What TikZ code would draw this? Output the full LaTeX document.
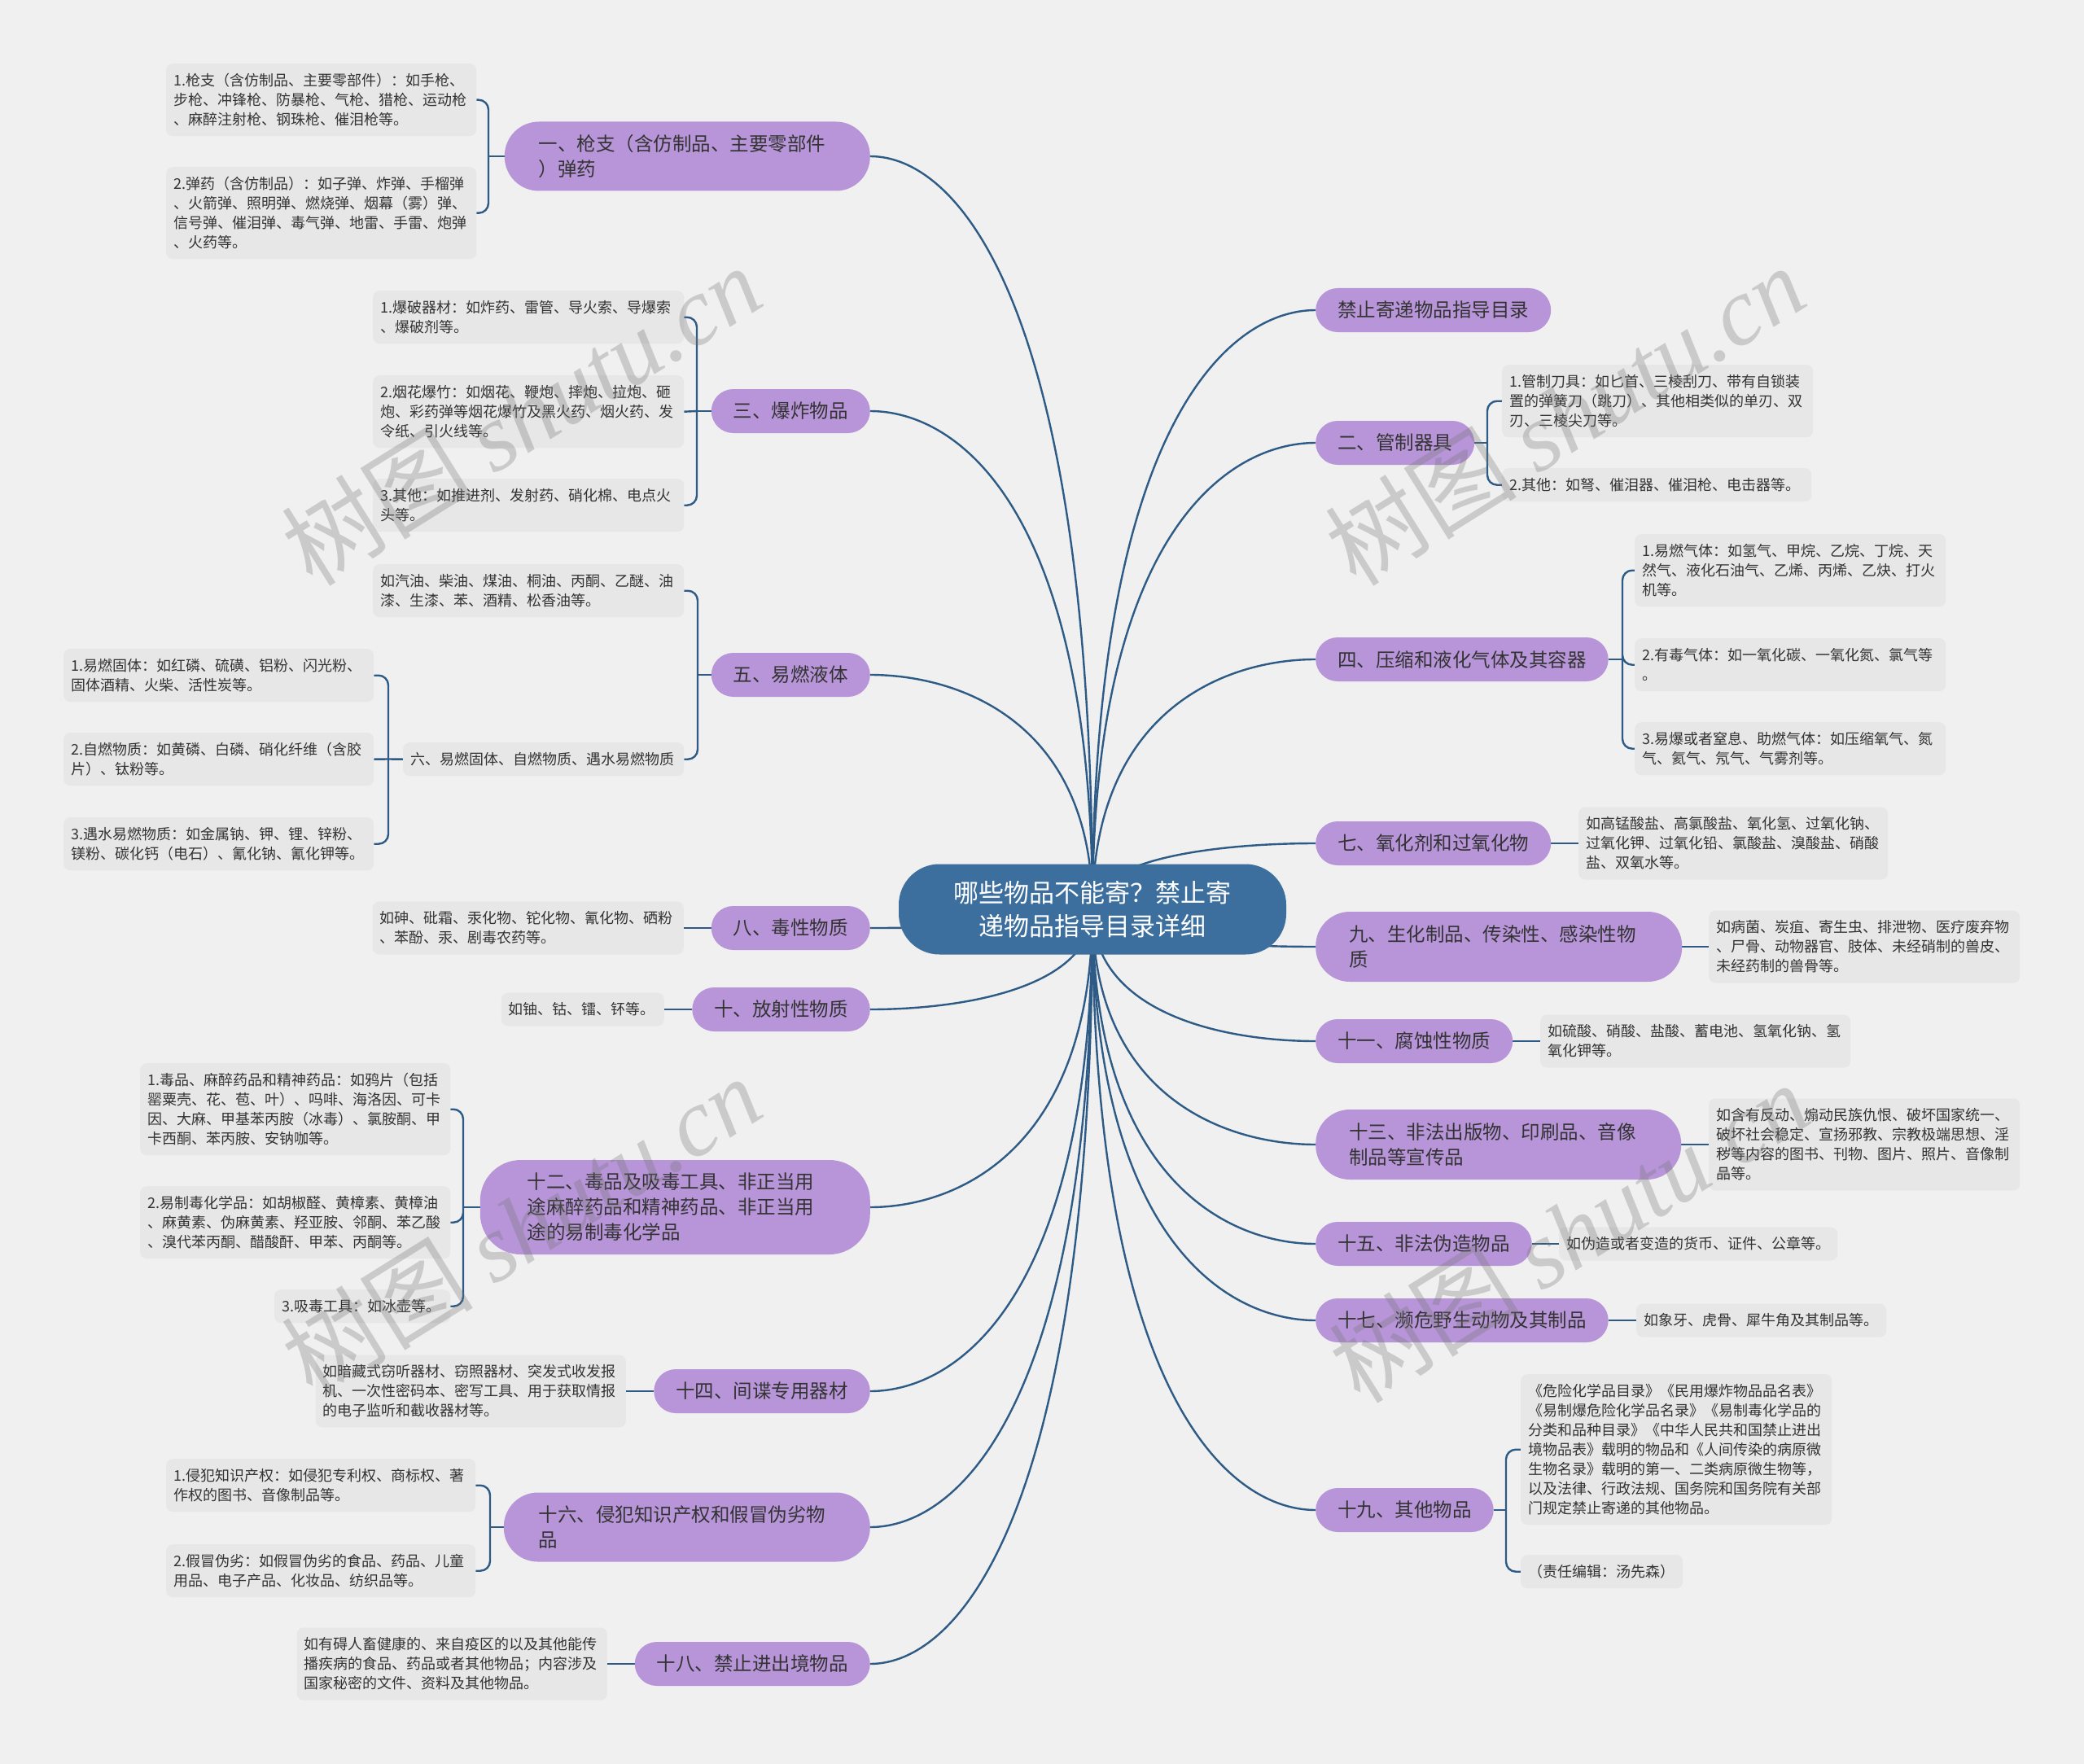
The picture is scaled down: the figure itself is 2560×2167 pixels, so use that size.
\documentclass[tikz,border=0pt]{standalone}
\usepackage{fontspec}
\setmainfont{Noto Sans CJK SC}
\newfontfamily\wmserif{Liberation Serif}
\usetikzlibrary{calc}
\definecolor{bgc}{RGB}{240,240,240}
\definecolor{leafc}{RGB}{231,231,231}
\definecolor{purp}{RGB}{183,149,216}
\definecolor{cen}{RGB}{60,110,158}
\definecolor{linec}{RGB}{45,91,134}
\definecolor{txt}{RGB}{51,51,51}
\pgfdeclarelayer{bg}
\pgfsetlayers{bg,main}
\newcommand\leaffont{\fontsize{18pt}{24pt}\selectfont\lineskiplimit=-100pt\relax}
\newcommand\brfont{\fontsize{23.5pt}{31pt}\selectfont\lineskiplimit=-100pt\relax}
\newcommand\cenfont{\fontsize{31pt}{41pt}\selectfont\lineskiplimit=-100pt\relax}
\newcommand\wmfont{\fontsize{118pt}{118pt}\selectfont}
\tikzset{
  leaf/.style={fill=leafc, rounded corners=8pt, inner xsep=9pt, inner ysep=0pt, text=txt, font=\leaffont, align=left, anchor=north west},
  lha/.style={minimum height=41pt},
  lhb/.style={minimum height=65pt},
  lhc/.style={minimum height=89pt},
  lhd/.style={minimum height=113pt},
  lhg/.style={minimum height=185pt},
  br/.style={fill=purp, rounded corners=27pt, inner xsep=27pt, inner ysep=0pt, minimum height=54pt, text=txt, font=\brfont, align=left},
  brtwo/.style={minimum height=85pt, rounded corners=42pt, text width=#1},
  cnode/.style={fill=cen, rounded corners=50pt, text=white, font=\cenfont, align=center, minimum width=476pt, minimum height=111pt, inner sep=0pt},
  conn/.style={draw=linec, line width=2.4pt},
  sub/.style={conn, rounded corners=12pt},
  curve/.style={conn, to path={let \p1=(\tikztostart), \p2=(\tikztotarget) in .. controls (\x1,{\y1+0.8*(\y2-\y1)}) and ({\x1+0.6*(\x2-\x1)},\y2) .. (\tikztotarget)}},
  wm/.style={text=black!55, text opacity=0.3, font=\wmfont, rotate=32, inner sep=0pt}
}
\begin{document}
\begin{tikzpicture}[x=1pt,y=-1pt]
\useasboundingbox (0,0) rectangle (2560,2167);

% centre
\node[cnode] (c) at (1342,1117) {哪些物品不能寄？禁止寄\\递物品指导目录详细};

% left branches
\node[br, brtwo=365pt, inner xsep=42pt, anchor=east] (b1) at (1069,192) {一、枪支（含仿制品、主要零部件\\）弹药};
\node[br, anchor=east] (b3) at (1069,505) {三、爆炸物品};
\node[br, anchor=east] (b5) at (1069,829) {五、易燃液体};
\node[br, anchor=east] (b8) at (1069,1140) {八、毒性物质};
\node[br, anchor=east] (b10) at (1069,1240) {十、放射性物质};
\node[br, text width=363pt, inner xsep=58pt, minimum height=116pt, rounded corners=50pt, anchor=east] (b12) at (1069,1483) {十二、毒品及吸毒工具、非正当用\\途麻醉药品和精神药品、非正当用\\途的易制毒化学品};
\node[br, anchor=east] (b14) at (1069,1709) {十四、间谍专用器材};
\node[br, brtwo=364pt, inner xsep=43pt, anchor=east] (b16) at (1069,1876) {十六、侵犯知识产权和假冒伪劣物\\品};
\node[br, anchor=east] (b18) at (1069,2044) {十八、禁止进出境物品};

% right branches
\node[br, anchor=west] (r0) at (1616,381) {禁止寄递物品指导目录};
\node[br, anchor=west] (r2) at (1616,544) {二、管制器具};
\node[br, anchor=west] (r4) at (1616,810) {四、压缩和液化气体及其容器};
\node[br, anchor=west] (r7) at (1616,1036) {七、氧化剂和过氧化物};
\node[br, brtwo=368pt, inner xsep=41pt, minimum height=86pt, anchor=west] (r9) at (1616,1163) {九、生化制品、传染性、感染性物\\质};
\node[br, anchor=west] (r11) at (1616,1279) {十一、腐蚀性物质};
\node[br, brtwo=367pt, inner xsep=41pt, minimum height=86pt, anchor=west] (r13) at (1616,1406) {十三、非法出版物、印刷品、音像\\制品等宣传品};
\node[br, anchor=west] (r15) at (1616,1528) {十五、非法伪造物品};
\node[br, anchor=west] (r17) at (1616,1622) {十七、濒危野生动物及其制品};
\node[br, anchor=west] (r19) at (1616,1855) {十九、其他物品};

% left leaves
\node[leaf, lhc, text width=363pt] (l1a) at (204,78) {1.枪支（含仿制品、主要零部件）：如手枪、\\步枪、冲锋枪、防暴枪、气枪、猎枪、运动枪\\、麻醉注射枪、钢珠枪、催泪枪等。};
\node[leaf, lhd, text width=363pt] (l1b) at (204,205) {2.弹药（含仿制品）：如子弹、炸弹、手榴弹\\、火箭弹、照明弹、燃烧弹、烟幕（雾）弹、\\信号弹、催泪弹、毒气弹、地雷、手雷、炮弹\\、火药等。};
\node[leaf, lhb, text width=364pt] (l3a) at (458,357) {1.爆破器材：如炸药、雷管、导火索、导爆索\\、爆破剂等。};
\node[leaf, lhc, text width=364pt] (l3b) at (458,461) {2.烟花爆竹：如烟花、鞭炮、摔炮、拉炮、砸\\炮、彩药弹等烟花爆竹及黑火药、烟火药、发\\令纸、引火线等。};
\node[leaf, lhb, text width=364pt] (l3c) at (458,588) {3.其他：如推进剂、发射药、硝化棉、电点火\\头等。};
\node[leaf, lhb, text width=364pt] (l5a) at (458,693) {如汽油、柴油、煤油、桐油、丙酮、乙醚、油\\漆、生漆、苯、酒精、松香油等。};
\node[leaf, lha, text width=327pt] (l6) at (495,912) {六、易燃固体、自燃物质、遇水易燃物质};
\node[leaf, lhb, text width=363pt] (l6a) at (78,797) {1.易燃固体：如红磷、硫磺、铝粉、闪光粉、\\固体酒精、火柴、活性炭等。};
\node[leaf, lhb, text width=363pt] (l6b) at (78,900) {2.自燃物质：如黄磷、白磷、硝化纤维（含胶\\片）、钛粉等。};
\node[leaf, lhb, text width=363pt] (l6c) at (78,1004) {3.遇水易燃物质：如金属钠、钾、锂、锌粉、\\镁粉、碳化钙（电石）、氰化钠、氰化钾等。};
\node[leaf, lhb, text width=364pt, anchor=east] (l8) at (840,1140) {如砷、砒霜、汞化物、铊化物、氰化物、硒粉\\、苯酚、汞、剧毒农药等。};
\node[leaf, lha, text width=182pt, anchor=east] (l10) at (816,1240) {如铀、钴、镭、钚等。};
\node[leaf, lhd, text width=363pt] (l12a) at (172,1306) {1.毒品、麻醉药品和精神药品：如鸦片（包括\\罂粟壳、花、苞、叶）、吗啡、海洛因、可卡\\因、大麻、甲基苯丙胺（冰毒）、氯胺酮、甲\\卡西酮、苯丙胺、安钠咖等。};
\node[leaf, lhc, text width=363pt] (l12b) at (172,1457) {2.易制毒化学品：如胡椒醛、黄樟素、黄樟油\\、麻黄素、伪麻黄素、羟亚胺、邻酮、苯乙酸\\、溴代苯丙酮、醋酸酐、甲苯、丙酮等。};
\node[leaf, lha, text width=198pt] (l12c) at (337,1584) {3.吸毒工具：如冰壶等。};
\node[leaf, lhc, text width=363pt, anchor=east] (l14) at (769,1709) {如暗藏式窃听器材、窃照器材、突发式收发报\\机、一次性密码本、密写工具、用于获取情报\\的电子监听和截收器材等。};
\node[leaf, lhb, text width=362pt] (l16a) at (204,1792) {1.侵犯知识产权：如侵犯专利权、商标权、著\\作权的图书、音像制品等。};
\node[leaf, lhb, text width=362pt] (l16b) at (204,1897) {2.假冒伪劣：如假冒伪劣的食品、药品、儿童\\用品、电子产品、化妆品、纺织品等。};
\node[leaf, lhc, text width=363pt, anchor=east] (l18) at (746,2044) {如有碍人畜健康的、来自疫区的以及其他能传\\播疾病的食品、药品或者其他物品；内容涉及\\国家秘密的文件、资料及其他物品。};

% right leaves
\node[leaf, lhc, text width=364pt] (r2a) at (1845,448) {1.管制刀具：如匕首、三棱刮刀、带有自锁装\\置的弹簧刀（跳刀）、其他相类似的单刃、双\\刃、三棱尖刀等。};
\node[leaf, lha, text width=362pt] (r2b) at (1845,575) {2.其他：如弩、催泪器、催泪枪、电击器等。};
\node[leaf, lhc, text width=364pt] (r4a) at (2008,656) {1.易燃气体：如氢气、甲烷、乙烷、丁烷、天\\然气、液化石油气、乙烯、丙烯、乙炔、打火\\机等。};
\node[leaf, lhb, text width=364pt] (r4b) at (2008,784) {2.有毒气体：如一氧化碳、一氧化氮、氯气等\\。};
\node[leaf, lhb, text width=364pt] (r4c) at (2008,887) {3.易爆或者窒息、助燃气体：如压缩氧气、氮\\气、氦气、氖气、气雾剂等。};
\node[leaf, lhc, text width=362pt, anchor=west] (r7a) at (1939,1036) {如高锰酸盐、高氯酸盐、氧化氢、过氧化钠、\\过氧化钾、过氧化铅、氯酸盐、溴酸盐、硝酸\\盐、双氧水等。};
\node[leaf, lhc, text width=364pt, anchor=west] (r9a) at (2099,1163) {如病菌、炭疽、寄生虫、排泄物、医疗废弃物\\、尸骨、动物器官、肢体、未经硝制的兽皮、\\未经药制的兽骨等。};
\node[leaf, lhb, text width=363pt, anchor=west] (r11a) at (1892,1279) {如硫酸、硝酸、盐酸、蓄电池、氢氧化钠、氢\\氧化钾等。};
\node[leaf, lhd, text width=364pt, anchor=west] (r13a) at (2099,1406) {如含有反动、煽动民族仇恨、破坏国家统一、\\破坏社会稳定、宣扬邪教、宗教极端思想、淫\\秽等内容的图书、刊物、图片、照片、音像制\\品等。};
\node[leaf, lha, text width=324pt, anchor=west] (r15a) at (1915,1528) {如伪造或者变造的货币、证件、公章等。};
\node[leaf, lha, text width=289pt, anchor=west] (r17a) at (2010,1622) {如象牙、虎骨、犀牛角及其制品等。};
\node[leaf, lhg, text width=364pt] (r19a) at (1868,1688) {《危险化学品目录》《民用爆炸物品品名表》\\《易制爆危险化学品名录》《易制毒化学品的\\分类和品种目录》《中华人民共和国禁止进出\\境物品表》载明的物品和《人间传染的病原微\\生物名录》载明的第一、二类病原微生物等，\\以及法律、行政法规、国务院和国务院有关部\\门规定禁止寄递的其他物品。};
\node[leaf, lha, text width=181pt] (r19b) at (1868,1910) {（责任编辑：汤先森）};

% spine points
\coordinate (s1) at (600,192);
\coordinate (s3) at (856,505);
\coordinate (s5) at (857,829);
\coordinate (s6) at (477,932.5);
\coordinate (s12) at (569,1483);
\coordinate (s16) at (602,1876);
\coordinate (sr2) at (1827,544);
\coordinate (sr4) at (1993,810);
\coordinate (sr19) at (1850,1855);

\begin{pgfonlayer}{bg}
\fill[bgc] (0,0) rectangle (2560,2167);
% main curves
\foreach \t in {b1,b3,b5,b8,b10,b12,b14,b16,b18}{\draw[curve] (c.center) to (\t.east);}
\foreach \t in {r0,r2,r4,r7,r9,r11,r13,r15,r17,r19}{\draw[curve] (c.center) to (\t.west);}
% brackets
\draw[conn] (b1.west) -- (s1);
\draw[sub] (s1) |- (l1a.east) (s1) |- (l1b.east);
\draw[conn] (b3.west) -- (s3);
\draw[sub] (s3) |- (l3a.east) (s3) |- (l3c.east);
\draw[conn] (s3) -- (l3b.east);
\draw[conn] (b5.west) -- (s5);
\draw[sub] (s5) |- (l5a.east) (s5) |- (l6.east);
\draw[conn] (l6.west) -- (s6);
\draw[sub] (s6) |- (l6a.east) (s6) |- (l6c.east);
\draw[conn] (s6) -- (l6b.east);
\draw[conn] (b8.west) -- (l8.east);
\draw[conn] (b10.west) -- (l10.east);
\draw[conn] (b12.west) -- (s12);
\draw[sub] (s12) |- (l12a.east) (s12) |- (l12b.east) (s12) |- (l12c.east);
\draw[conn] (b14.west) -- (l14.east);
\draw[conn] (b16.west) -- (s16);
\draw[sub] (s16) |- (l16a.east) (s16) |- (l16b.east);
\draw[conn] (b18.west) -- (l18.east);
\draw[conn] (r2.east) -- (sr2);
\draw[sub] (sr2) |- (r2a.west) (sr2) |- (r2b.west);
\draw[conn] (r4.east) -- (sr4);
\draw[sub] (sr4) |- (r4a.west) (sr4) |- (r4b.west) (sr4) |- (r4c.west);
\draw[conn] (r7.east) -- (r7a.west);
\draw[conn] (r9.east) -- (r9a.west);
\draw[conn] (r11.east) -- (r11a.west);
\draw[conn] (r13.east) -- (r13a.west);
\draw[conn] (r15.east) -- (r15a.west);
\draw[conn] (r17.east) -- (r17a.west);
\draw[conn] (r19.east) -- (sr19);
\draw[sub] (sr19) |- (r19a.west) (sr19) |- (r19b.west);
\end{pgfonlayer}

% watermarks
\node[wm] (w1) at (640,510) {树图 {\wmserif\itshape shutu.cn}};
\node[wm] (w2) at (1922,510) {树图 {\wmserif\itshape shutu.cn}};
\node[wm] (w3) at (640,1506) {树图 {\wmserif\itshape shutu.cn}};
\node[wm] (w4) at (1927,1514) {树图 {\wmserif\itshape shutu.cn}};
\end{tikzpicture}
\end{document}
